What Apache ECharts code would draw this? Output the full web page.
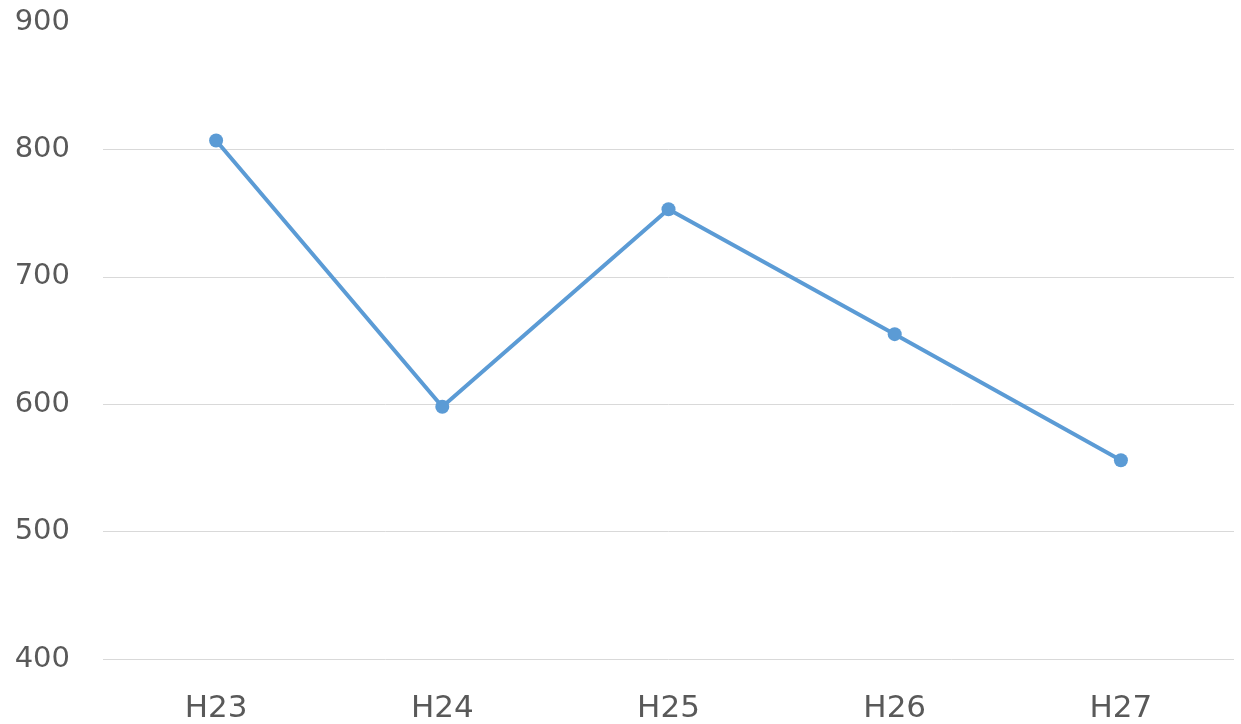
<!DOCTYPE html>
<html>
<head>
<meta charset="utf-8">
<script src="https://cdn.jsdelivr.net/npm/echarts@6/dist/echarts.min.js"></script>
<style>
  html, body { margin: 0; padding: 0; background: #fff; }
  #chart { width: 1241px; height: 724px; }
</style>
</head>
<body>
<div id="chart"></div>
<script>
// 年度 (平成)
var categories = ['H23', 'H24', 'H25', 'H26', 'H27'];
// 件数
var values = [807, 598, 753, 655, 556];
var yTicks = [400, 500, 600, 700, 800, 900];

var chart = echarts.init(document.getElementById('chart'));
var option = {
    animation: false,
    grid: { left: 103, right: 7, top: 22, bottom: 63 },
    xAxis: {
        type: 'category',
        data: categories,
        boundaryGap: true,
        axisLine: { show: false },
        axisTick: { show: false },
        axisLabel: {
            color: '#595959',
            fontSize: 31,
            fontFamily: 'DejaVu Sans',
            margin: 34
        }
    },
    yAxis: {
        type: 'value',
        min: yTicks[0],
        max: yTicks[yTicks.length - 1],
        interval: 100,
        axisLine: { show: false },
        axisTick: { show: false },
        axisLabel: {
            color: '#595959',
            fontSize: 29,
            fontFamily: 'DejaVu Sans',
            margin: 33,
            showMaxLabel: true
        },
        splitLine: {
            lineStyle: { color: '#d9d9d9', width: 1 },
            showMaxLine: false
        }
    },
    series: [{
        type: 'line',
        data: values,
        symbol: 'circle',
        symbolSize: 14,
        lineStyle: { color: '#5b9bd5', width: 4 },
        itemStyle: { color: '#5b9bd5' }
    }]
};
chart.setOption(option);
</script>
</body>
</html>
